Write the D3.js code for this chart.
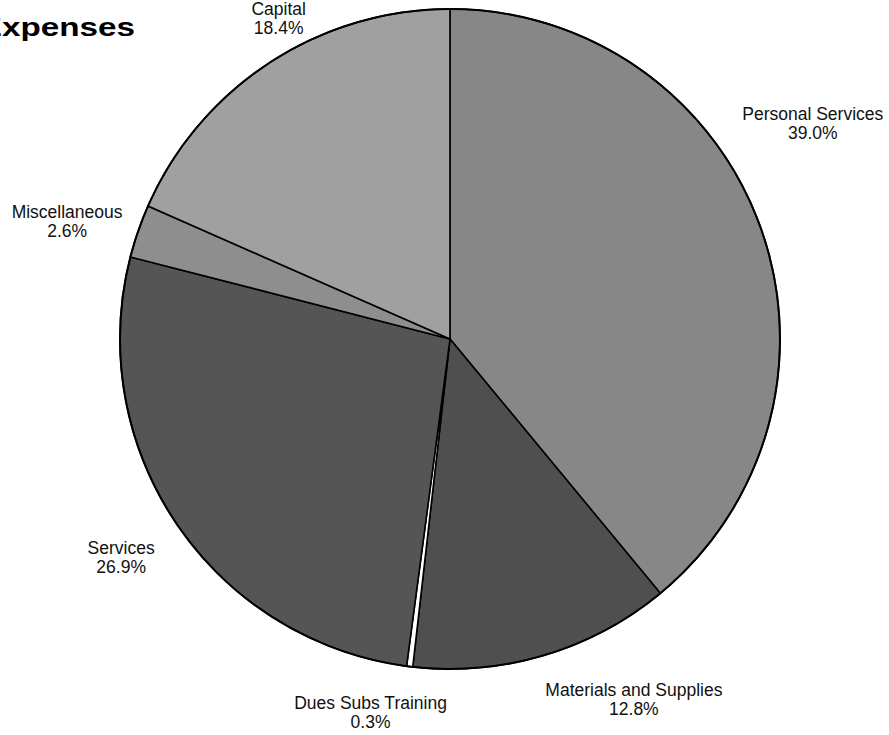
<!DOCTYPE html>
<html lang="en">
<head>
    <meta charset="UTF-8">
    <title>Expenses</title>
    <script src="https://d3js.org/d3.v7.min.js"></script>
    <style>
        body { margin: 0; background: white; }
        #canvas { display: block; }
        .label { font-family: "Liberation Sans", Arial, sans-serif; font-size: 17.5px; fill: #111; }
        .title { font-family: "Liberation Sans", Arial, sans-serif; font-weight: bold; font-size: 25px; fill: #000; }
        path.slice { stroke: #000; stroke-width: 1.6px; }
    </style>
</head>
<body>
    <svg id="canvas" width="889" height="735"></svg>
    <script>
        // data, clockwise from 12 o'clock
        let categories = ['Personal Services', 'Materials and Supplies', 'Dues Subs Training', 'Services', 'Miscellaneous', 'Capital'];
        let shares = [39.0, 12.8, 0.3, 26.9, 2.6, 18.4];
        let fills = ['#878787', '#4f4f4f', '#ffffff', '#555555', '#8e8e8e', '#a0a0a0'];

        // layout
        let cx = 450, cy = 339, radius = 330;
        // small tweaks so labels sit like the original (degrees / px gap from rim)
        let labelNudge = [-11, -10.5, 5, 0.5, -2, 5];
        let labelGap = [22, 17, 17, 26, 12, 4];

        let svg = d3.select('#canvas');

        // title, partly cut off at the left edge
        svg.append('text')
            .attr('class', 'title')
            .attr('text-anchor', 'end')
            .attr('transform', 'translate(135,36) scale(1.33,1)')
            .text('Expenses');

        let pie = d3.pie().sort(null).value(function(d){ return d; });
        let arcs = pie(shares);
        let arcGen = d3.arc().innerRadius(0).outerRadius(radius);

        let g = svg.append('g').attr('transform', 'translate(' + cx + ',' + cy + ')');

        g.selectAll('path.slice')
            .data(arcs)
            .enter()
            .append('path')
            .attr('class', 'slice')
            .attr('d', arcGen)
            .attr('fill', function(d, i){ return fills[i]; });

        // outer ring
        g.append('circle')
            .attr('r', radius)
            .attr('fill', 'none')
            .attr('stroke', '#000')
            .attr('stroke-width', 2);

        // labels: name + percent, pushed outside along the mid angle
        let lineH = 19;
        arcs.forEach(function(a, i){
            let lab = g.append('text')
                .attr('class', 'label')
                .attr('text-anchor', 'middle');
            let t1 = lab.append('tspan').attr('x', 0).attr('y', 0).text(categories[i]);
            let t2 = lab.append('tspan').attr('x', 0).attr('y', lineH).text(shares[i].toFixed(1) + '%');
            let w = Math.max(t1.node().getComputedTextLength(), t2.node().getComputedTextLength());
            let h = 38;
            let ang = (a.startAngle + a.endAngle) / 2 + labelNudge[i] * Math.PI / 180;
            let ux = Math.sin(ang), uy = -Math.cos(ang);
            let ext = Math.abs(ux) * w / 2 + Math.abs(uy) * h / 2;
            let d = radius + labelGap[i] + ext;
            let px = ux * d, py = uy * d;
            // text block centred on (px, py)
            lab.attr('transform', 'translate(' + px + ',' + (py - 3) + ')');
        });
    </script>
</body>
</html>
